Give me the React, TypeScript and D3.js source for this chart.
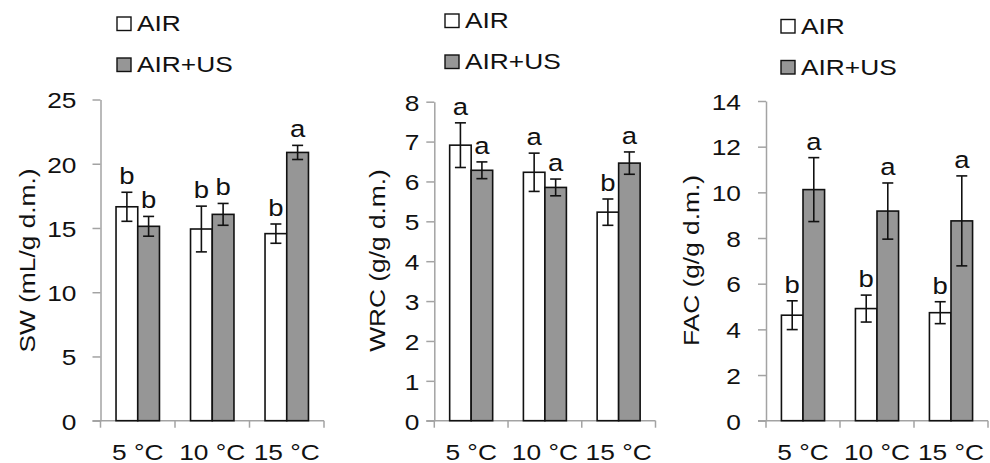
import React, { useRef, useEffect } from 'react'
import * as d3 from 'd3'

// categories and series
const categories = ['5 °C', '10 °C', '15 °C']
const seriesNames = ['AIR', 'AIR+US']

// SW (mL/g d.m.)
const swAir = [16.65, 14.92, 14.56]
const swAirErr = [1.13, 1.78, 0.75]
const swUs = [15.13, 16.06, 20.88]
const swUsErr = [0.77, 0.85, 0.55]
const swLetters = [['b', 'b', 'b'], ['b', 'b', 'a']]
const swTicks = [0, 5, 10, 15, 20, 25]

// WRC (g/g d.m.)
const wrcAir = [6.91, 6.23, 5.23]
const wrcAirErr = [0.56, 0.48, 0.33]
const wrcUs = [6.28, 5.85, 6.46]
const wrcUsErr = [0.21, 0.21, 0.28]
const wrcLetters = [['a', 'a', 'b'], ['a', 'a', 'a']]
const wrcTicks = [0, 1, 2, 3, 4, 5, 6, 7, 8]

// FAC (g/g d.m.)
const facAir = [4.62, 4.91, 4.73]
const facAirErr = [0.63, 0.59, 0.48]
const facUs = [10.12, 9.18, 8.75]
const facUsErr = [1.4, 1.23, 1.97]
const facLetters = [['b', 'b', 'b'], ['a', 'a', 'a']]
const facTicks = [0, 2, 4, 6, 8, 10, 12, 14]

const panels = [
  { title: 'SW (mL/g d.m.)', values: [swAir, swUs], errs: [swAirErr, swUsErr], letters: swLetters, ticks: swTicks },
  { title: 'WRC (g/g d.m.)', values: [wrcAir, wrcUs], errs: [wrcAirErr, wrcUsErr], letters: wrcLetters, ticks: wrcTicks },
  { title: 'FAC (g/g d.m.)', values: [facAir, facUs], errs: [facAirErr, facUsErr], letters: facLetters, ticks: facTicks },
]

// layout of each panel, in pixels
const layout = [
  { left: 100.5, right: 324, top: 99.5, labelGap: 24, titleX: 35, legendX: 117, legendY: 17 },
  { left: 434.3, right: 655.5, top: 101.7, labelGap: 15, titleX: 385, legendX: 445, legendY: 14 },
  { left: 766, right: 988, top: 101, labelGap: 25, titleX: 699, legendX: 781, legendY: 19.5 },
]

const bottom = 420.7
const font = 'Arial, "Liberation Sans", sans-serif'
const fontSize = 22.5
const stretch = 1.17
const textColor = '#111'
const axisColor = '#a3a3a3'
const fills = ['#ffffff', '#969696']

export default function App() {
  const canvas = useRef<SVGSVGElement>(null)

  useEffect(() => {
    const svg = d3.select(canvas.current)
    svg.selectAll('*').remove()

    panels.forEach((p, pi) => {
      const L = layout[pi]
      const g = svg.append('g')

      const y = d3.scaleLinear()
        .domain([0, d3.max(p.ticks) as number])
        .range([bottom, L.top])

      const x = d3.scaleBand()
        .domain(categories)
        .range([L.left, L.right])
        .padding(0)

      const x1 = d3.scaleBand()
        .domain(seriesNames)
        .range([0, x.bandwidth()])
        .paddingInner(0)
        .paddingOuter(0.715)

      // y axis
      const yAxis = g.append('g')
        .attr('transform', `translate(${L.left},0)`)
        .call(d3.axisLeft(y).tickValues(p.ticks).tickSize(8).tickSizeOuter(0))
      yAxis.selectAll('path, line').attr('stroke', axisColor).attr('stroke-width', 1.5)
      yAxis.selectAll('text')
        .attr('x', null).attr('dy', null)
        .attr('transform', `translate(${-L.labelGap},8.3) scale(${stretch},1)`)
        .attr('fill', textColor)
        .style('font-family', font)
        .style('font-size', `${fontSize}px`)

      // x axis
      const xg = g.append('g')
      xg.append('line')
        .attr('x1', L.left - 8).attr('x2', L.right)
        .attr('y1', bottom).attr('y2', bottom)
        .attr('stroke', axisColor).attr('stroke-width', 1.5)
      const bounds = [...categories.map(c => x(c) as number), L.right]
      xg.selectAll('line.tick').data(bounds).enter()
        .append('line')
        .attr('class', 'tick')
        .attr('x1', d => d).attr('x2', d => d)
        .attr('y1', bottom).attr('y2', bottom + 7)
        .attr('stroke', axisColor).attr('stroke-width', 1.5)
      xg.selectAll('text').data(categories).enter()
        .append('text')
        .attr('transform', d => `translate(${(x(d) as number) + x.bandwidth() / 2},${bottom + 39}) scale(${stretch},1)`)
        .attr('text-anchor', 'middle')
        .attr('fill', textColor)
        .style('font-family', font)
        .style('font-size', `${fontSize}px`)
        .text(d => d)

      // y title
      g.append('text')
        .attr('transform', `translate(${L.titleX},260.5) rotate(-90) scale(${stretch},1)`)
        .attr('text-anchor', 'middle')
        .attr('fill', textColor)
        .style('font-family', font)
        .style('font-size', `${fontSize}px`)
        .text(p.title)

      // bars
      seriesNames.forEach((s, si) => {
        const vals = p.values[si]
        const errs = p.errs[si]
        const sg = g.append('g')
        const bx = (i: number) => (x(categories[i]) as number) + (x1(s) as number)
        const bw = x1.bandwidth()

        sg.selectAll('rect').data(vals).enter()
          .append('rect')
          .attr('x', (d, i) => bx(i))
          .attr('y', d => y(d))
          .attr('width', bw)
          .attr('height', d => bottom - y(d))
          .attr('fill', fills[si])
          .attr('stroke', '#111')
          .attr('stroke-width', 1.6)

        // error bars
        vals.forEach((v, i) => {
          const cx = bx(i) + bw / 2
          const top = y(v + errs[i])
          const bot = y(v - errs[i])
          sg.append('line').attr('x1', cx).attr('x2', cx).attr('y1', top).attr('y2', bot)
            .attr('stroke', '#111').attr('stroke-width', 1.6)
          ;[top, bot].forEach(yy => {
            sg.append('line').attr('x1', cx - 5.5).attr('x2', cx + 5.5).attr('y1', yy).attr('y2', yy)
              .attr('stroke', '#111').attr('stroke-width', 1.6)
          })
          sg.append('text')
            .attr('transform', `translate(${cx},${top - 8}) scale(${stretch},1)`)
            .attr('text-anchor', 'middle')
            .attr('fill', textColor)
            .style('font-family', font)
            .style('font-size', `${fontSize + 1}px`)
            .text(p.letters[si][i])
        })
      })

      // legend
      seriesNames.forEach((s, si) => {
        const ly = L.legendY + si * 41
        g.append('rect')
          .attr('x', L.legendX).attr('y', ly)
          .attr('width', 14).attr('height', 13.5)
          .attr('fill', fills[si])
          .attr('stroke', '#111').attr('stroke-width', 1.4)
        g.append('text')
          .attr('transform', `translate(${L.legendX + 20},${ly + 14.3}) scale(${stretch},1)`)
          .attr('fill', textColor)
          .style('font-family', font)
          .style('font-size', `${fontSize}px`)
          .text(s)
      })
    })
  }, [])

  return (
    <div style={{ position: 'absolute', left: 0, top: 0 }}>
      <svg width="990" height="463" ref={canvas} style={{ display: 'block', background: '#fff' }} />
    </div>
  )
}
